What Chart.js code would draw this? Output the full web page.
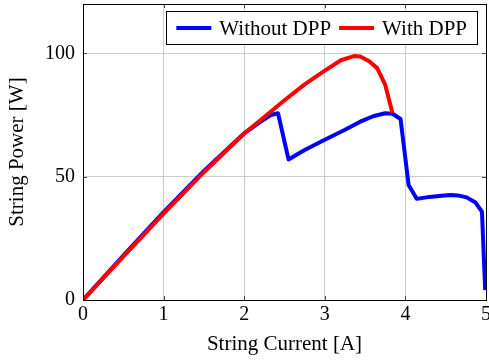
<!DOCTYPE html>
<html>
<head>
<meta charset="utf-8">
<script src="https://cdn.jsdelivr.net/npm/chart.js@4.4.1/dist/chart.umd.min.js"></script>
<style>
  html, body { margin: 0; padding: 0; background: #fff; }
  #wrap { width: 489px; height: 361px; }
</style>
</head>
<body>
<div id="wrap"><canvas id="c" width="489" height="361"></canvas></div>
<script>
// String current [A] / string power [W]
const woCurrent = [0, 0.5, 1, 1.5, 2, 2.2, 2.33, 2.42, 2.55, 2.75, 3, 3.25, 3.44, 3.6, 3.75, 3.84, 3.94, 4.04, 4.14, 4.3, 4.45, 4.56, 4.65, 4.76, 4.87, 4.95, 4.99];
const woPower   = [0, 18, 35.6, 52.3, 67.6, 72.2, 75, 75.7, 57, 60.8, 65, 69, 72.3, 74.5, 75.7, 75.5, 73.4, 46.6, 41, 41.8, 42.3, 42.6, 42.4, 41.6, 39.5, 35.8, 4];

const wCurrent = [0, 0.5, 1, 1.5, 2, 2.25, 2.5, 2.75, 3, 3.2, 3.36, 3.44, 3.55, 3.65, 3.75, 3.84];
const wPower   = [0, 17.6, 35, 51.8, 67.5, 74.2, 81, 87.4, 93, 97.2, 98.9, 98.7, 96.8, 94, 87.2, 75.7];

const seriesNames = ['Without DPP', 'With DPP'];
const seriesColors = ['#0000ff', '#ff0000'];

const xTitle = 'String Current [A]';
const yTitle = 'String Power [W]';

function toPoints(xs, ys) {
  return xs.map(function (x, i) { return { x: x, y: ys[i] }; });
}

const serif = "'Liberation Serif', 'Times New Roman', serif";

// box around the plot with small inner ticks, like pgfplots
const framePlugin = {
  id: 'frame',
  afterDatasetsDraw(chart) {
    const ctx = chart.ctx;
    const a = chart.chartArea;
    const xs = chart.scales.x, ys = chart.scales.y;
    ctx.save();
    ctx.strokeStyle = '#444';
    ctx.lineWidth = 1;
    ctx.beginPath();
    xs.ticks.forEach(function (t) {
      const px = Math.round(xs.getPixelForValue(t.value)) + 0.5;
      ctx.moveTo(px, a.bottom); ctx.lineTo(px, a.bottom - 4);
      ctx.moveTo(px, a.top); ctx.lineTo(px, a.top + 4);
    });
    ys.ticks.forEach(function (t) {
      const py = Math.round(ys.getPixelForValue(t.value)) + 0.5;
      ctx.moveTo(a.left, py); ctx.lineTo(a.left + 4, py);
      ctx.moveTo(a.right, py); ctx.lineTo(a.right - 4, py);
    });
    ctx.stroke();
    ctx.strokeStyle = '#000';
    ctx.strokeRect(Math.round(a.left) + 0.5, Math.round(a.top) + 0.5,
                   Math.round(a.right - a.left), Math.round(a.bottom - a.top));
    ctx.restore();
  }
};

// legend in a framed box at the top right of the plot
const legendBoxPlugin = {
  id: 'legendBox',
  afterDraw(chart) {
    const ctx = chart.ctx;
    const a = chart.chartArea;
    ctx.save();
    ctx.font = '21px ' + serif;
    const pad = 10, lineLen = 35, gap = 8, itemGap = 8, h = 33;
    const widths = seriesNames.map(function (n) { return ctx.measureText(n).width; });
    let total = pad * 2;
    widths.forEach(function (w, i) { total += lineLen + gap + w + (i > 0 ? itemGap : 0); });
    const right = a.right - 9;
    const left = right - total;
    const top = a.top + 7;
    ctx.fillStyle = '#fff';
    ctx.fillRect(left, top, total, h);
    ctx.strokeStyle = '#000';
    ctx.lineWidth = 1;
    ctx.strokeRect(Math.round(left) + 0.5, Math.round(top) + 0.5, Math.round(total), h);
    let x = left + pad;
    const cy = top + h / 2 + 0.5;
    seriesNames.forEach(function (n, i) {
      ctx.strokeStyle = seriesColors[i];
      ctx.lineWidth = 4;
      ctx.beginPath();
      ctx.moveTo(x, cy); ctx.lineTo(x + lineLen, cy);
      ctx.stroke();
      x += lineLen + gap;
      ctx.fillStyle = '#000';
      ctx.textBaseline = 'middle';
      ctx.fillText(n, x, cy + 1);
      x += widths[i] + itemGap;
    });
    ctx.restore();
  }
};

const config = {
  type: 'scatter',
  data: {
    datasets: [
      {
        label: seriesNames[0],
        data: toPoints(woCurrent, woPower),
        borderColor: seriesColors[0],
        backgroundColor: seriesColors[0],
        borderWidth: 4,
        showLine: true,
        pointRadius: 0,
        borderJoinStyle: 'round',
        order: 1
      },
      {
        label: seriesNames[1],
        data: toPoints(wCurrent, wPower),
        borderColor: seriesColors[1],
        backgroundColor: seriesColors[1],
        borderWidth: 4,
        showLine: true,
        pointRadius: 0,
        borderJoinStyle: 'round',
        order: 0
      }
    ]
  },
  options: {
    responsive: false,
    animation: false,
    layout: { padding: { left: 0, right: 3, top: 4, bottom: 0 } },
    plugins: {
      legend: { display: false },
      tooltip: { enabled: false }
    },
    scales: {
      x: {
        type: 'linear',
        min: 0,
        max: 5,
        ticks: { stepSize: 1, color: '#000', padding: 3, font: { family: serif, size: 20 } },
        grid: { color: '#cccccc', lineWidth: 1, drawTicks: false },
        border: { display: false },
        title: { display: true, text: xTitle, color: '#000', padding: { top: 0, bottom: 4 }, font: { family: serif, size: 21 } },
        afterFit: function (s) { s.height = 61; s.paddingLeft = 0; s.paddingRight = 0; }
      },
      y: {
        type: 'linear',
        min: 0,
        max: 120,
        ticks: { stepSize: 50, includeBounds: false, color: '#000', padding: 8, font: { family: serif, size: 20 } },
        grid: { color: '#cccccc', lineWidth: 1, drawTicks: false },
        border: { display: false },
        title: { display: true, text: yTitle, color: '#000', padding: { top: 5, bottom: 0 }, font: { family: serif, size: 21 } },
        afterFit: function (s) { s.width = 83; s.paddingTop = 0; s.paddingBottom = 0; }
      }
    }
  },
  plugins: [framePlugin, legendBoxPlugin]
};

new Chart(document.getElementById('c'), config);
</script>
</body>
</html>
